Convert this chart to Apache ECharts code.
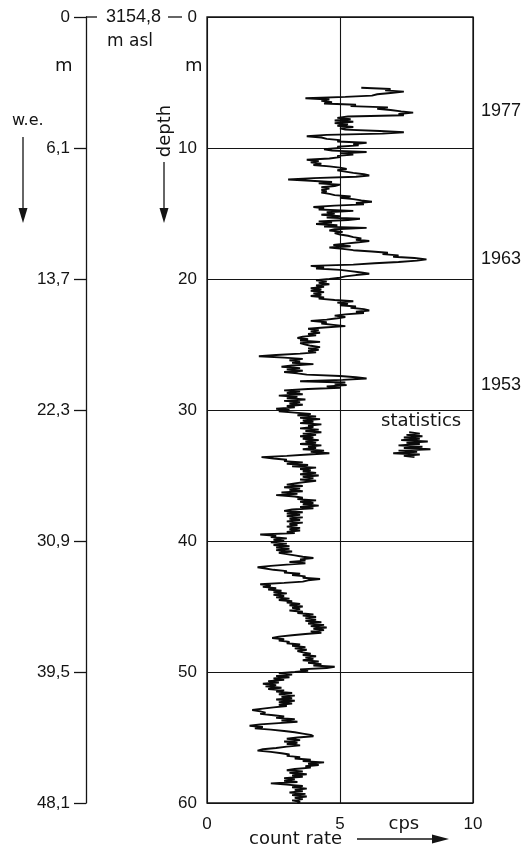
<!DOCTYPE html>
<html><head><meta charset="utf-8">
<script src="https://cdn.jsdelivr.net/npm/echarts@6/dist/echarts.min.js"></script>
<style>html,body{margin:0;padding:0;background:#fff}#c{width:526px;height:849px}</style>
</head><body><div id="c"></div>
<script>
// ---- data ----
const depthStart = 5.4;   // m, first sample of the log
const depthStepTenths = 1; // sample spacing 0.1 m
const countRate = [
 5.8,6.9,6.7,7.4,6.9,6.4,
 6.2,5.2,3.7,4.6,4.3,4.7,4.4,5.6,5.4,6.8,
 6.4,6.9,7.3,7.75,7.2,7.4,5.3,4.9,5.4,4.8,
 5.5,4.8,5.3,4.9,5.5,5.0,5.2,6.5,7.4,6.6,
 4.5,3.75,4.3,4.5,5.0,4.9,6.0,5.5,5.7,4.9,
 5.0,4.4,4.7,6.0,5.0,5.5,4.9,5.0,4.6,3.75,
 4.2,3.9,4.3,4.0,4.6,5.0,5.25,4.9,5.2,5.5,
 5.9,6.1,5.6,4.0,3.05,3.9,4.7,4.2,5.0,4.8,
 4.3,4.6,4.3,4.5,4.3,4.6,4.8,5.4,5.0,5.5,
 5.8,6.2,5.6,5.9,4.8,4.0,4.4,4.2,5.5,4.5,
 4.8,4.3,5.0,4.5,5.75,5.3,4.2,4.7,4.1,4.9,
 4.4,6.0,4.8,4.6,5.1,4.8,5.0,5.3,5.5,5.8,
 5.6,6.1,5.7,5.2,4.75,5.4,4.6,5.1,5.5,6.2,
 6.8,6.6,7.2,7.0,7.8,8.25,7.9,7.2,6.3,5.5,
 3.9,4.4,4.1,5.0,5.4,5.8,6.1,5.6,5.2,5.0,
 4.6,4.1,4.5,4.2,4.6,4.1,4.4,3.9,4.3,3.9,
 4.4,4.0,4.3,3.9,4.4,4.2,4.8,5.5,4.9,5.3,
 5.0,5.6,5.4,5.9,6.1,5.6,5.9,5.2,4.8,5.2,
 4.9,4.5,3.9,4.5,4.3,4.75,5.2,4.4,3.8,4.2,
 3.9,4.25,3.8,4.1,3.6,3.4,3.8,3.5,4.25,3.5,
 3.7,3.9,4.25,3.8,4.2,3.8,4.1,3.5,2.6,1.95,
 2.9,3.6,3.1,3.5,3.2,4.0,3.2,2.8,3.5,3.0,
 3.6,2.9,3.4,3.75,5.0,5.6,6.0,5.1,3.5,5.2,
 4.8,5.25,4.5,5.0,3.8,2.9,3.5,3.0,3.6,2.7,
 3.4,3.0,3.7,2.9,3.5,3.1,3.6,3.0,3.3,2.6,
 3.1,2.7,3.3,3.9,3.4,4.1,3.5,4.25,3.6,4.0,
 3.5,4.3,3.8,4.0,3.5,4.2,3.7,4.3,3.6,4.1,
 3.5,4.0,3.6,4.2,3.7,4.1,3.5,4.3,3.8,4.1,
 3.6,4.4,3.9,4.6,3.8,3.0,2.05,2.5,3.0,2.9,
 3.6,3.0,3.8,3.2,4.1,3.5,3.9,3.6,4.1,3.5,
 4.2,3.6,4.0,3.5,4.1,3.7,3.3,3.0,3.6,2.9,
 3.5,3.1,3.6,2.8,3.4,2.6,3.3,3.6,3.4,4.1,
 3.5,4.0,3.6,4.2,3.5,4.0,3.2,2.9,3.6,3.0,
 3.5,3.0,3.6,3.1,3.5,3.0,3.6,3.1,3.4,3.0,
 3.5,3.1,3.5,3.0,3.3,2.0,2.6,2.4,3.0,2.5,
 2.9,2.4,3.0,2.5,3.1,2.6,3.1,2.6,3.2,2.7,
 3.0,3.3,3.6,4.0,3.5,3.7,3.1,3.7,3.0,2.4,
 1.9,2.2,2.5,3.0,2.9,3.5,3.2,3.7,3.6,4.25,
 3.8,3.6,2.9,2.0,2.4,2.1,2.6,2.3,2.8,2.5,
 3.0,2.5,2.9,2.6,3.1,2.7,3.2,3.0,3.5,3.1,
 3.6,3.2,3.5,3.1,3.6,3.4,4.0,3.6,4.1,3.7,
 4.1,3.7,4.3,3.8,4.4,3.9,4.5,4.0,4.4,3.9,
 4.3,3.7,3.2,2.7,2.45,2.9,2.7,3.1,3.0,3.5,
 3.2,3.7,3.3,3.75,3.4,3.6,3.9,3.6,4.1,3.7,
 4.0,3.6,4.2,3.8,4.3,4.0,4.8,4.5,3.5,3.8,
 3.3,2.7,3.2,2.6,3.1,2.5,2.9,2.3,2.7,2.1,
 2.6,2.2,2.8,2.3,2.9,2.6,3.2,2.7,3.3,2.8,
 3.2,2.6,3.3,2.7,3.2,2.7,3.0,2.5,2.1,1.7,
 2.0,2.2,2.0,2.5,2.9,2.6,3.3,2.8,3.4,2.7,
 2.0,1.6,2.1,1.8,2.4,2.9,3.3,3.6,3.9,4.0,
 3.4,3.0,3.5,2.9,3.4,3.0,3.5,3.0,2.6,2.1,
 1.9,2.4,2.8,3.1,3.0,3.5,3.3,3.9,3.6,4.4,
 3.8,4.2,3.7,3.9,3.3,3.0,3.6,3.1,3.75,3.2,
 3.6,2.9,3.3,2.9,3.4,2.4,3.0,3.6,3.2,3.75,
 3.3,3.6,3.1,3.7,3.2,3.75,3.3,3.6,3.2,3.5,
 3.4
];
const statsStart = 31.7;  // m
const statsRate = [7.6,8.0,7.5,8.1,7.4,8.0,7.3,8.3,7.5,8.0,7.2,8.1,7.4,8.4,7.2,7.9,7.0,8.0,7.4,7.8];
const xTickLabels = ['0','5','10'];
const depthTickLabels = ['0','10','20','30','40','50','60'];
const weTickLabels = ['0','6,1','13,7','22,3','30,9','39,5','48,1'];
const yearLabels = ['1977','1963','1953'];
const yearDepths = [7.2, 18.5, 28.1];
const statsLabelPos = [8.05, 30.9];

// ---- build series ----
const startTenths = Math.round(depthStart*10);
const logData = countRate.map((v,i)=>[v,(startTenths + i*depthStepTenths)/10]);
const statsStartT = Math.round(statsStart*10);
const statsData = statsRate.map((v,i)=>[v,(statsStartT+i)/10]);

const INK = '#141414';
const NUM_FONT = "'Liberation Sans', Arial, sans-serif";
const WORD_FONT = "'DejaVu Sans', sans-serif";

const chart = echarts.init(document.getElementById('c'), null, {renderer:'canvas'});
const option = {
  backgroundColor:'#fff',
  animation:false,
  grid:{left:207, top:17, width:266, height:786, show:true, borderColor:INK, borderWidth:1.3, backgroundColor:'transparent'},
  xAxis:{type:'value', min:0, max:10, interval:5,
    axisLine:{show:false}, axisTick:{show:false},
    splitLine:{show:true, lineStyle:{color:INK, width:1.1}},
    axisLabel:{margin:13, fontSize:17, fontFamily:NUM_FONT, color:INK,
      formatter:(v)=>xTickLabels[Math.round(v/5)]}},
  yAxis:[
    {type:'value', inverse:true, min:0, max:60, interval:10,
     axisLine:{show:false}, axisTick:{show:false},
     splitLine:{show:true, lineStyle:{color:INK, width:1.1}},
     axisLabel:{margin:10, fontSize:17, fontFamily:NUM_FONT, color:INK,
       formatter:(v)=>depthTickLabels[Math.round(v/10)]}},
    {type:'value', inverse:true, min:0, max:60, interval:10, position:'left', offset:121,
     axisLine:{show:true, lineStyle:{color:INK, width:1.3}},
     axisTick:{show:true, length:12, lineStyle:{color:INK, width:1.3}},
     splitLine:{show:false},
     axisLabel:{margin:16, fontSize:17, fontFamily:NUM_FONT, color:INK,
       formatter:(v)=>weTickLabels[Math.round(v/10)]}}
  ],
  series:[
    {type:'line', data:logData, symbol:'none', smooth:false, xAxisIndex:0, yAxisIndex:0,
     lineStyle:{color:'#0a0a0a', width:1.9}},
    {type:'line', data:statsData, symbol:'none', smooth:false, xAxisIndex:0, yAxisIndex:0,
     lineStyle:{color:'#0a0a0a', width:1.9}}
  ]
};
chart.setOption(option);

const P = (x,y)=>chart.convertToPixel({xAxisIndex:0, yAxisIndex:0},[x,y]);
const top0 = P(0,0)[1];
const bot = P(0,60)[1];
const weX = 207-121;
const g = [];
const txt = (s,x,y,opt)=>Object.assign({type:'text', x:x, y:y, style:Object.assign({text:s, fill:INK, font:'17px '+NUM_FONT, textAlign:'left', textVerticalAlign:'middle'}, opt||{})});
// top cross tick of w.e. axis
g.push({type:'line', shape:{x1:weX, y1:top0, x2:weX+11, y2:top0}, style:{stroke:INK, lineWidth:1.3}});
// altitude label
g.push(txt('3154,8', 106, top0, {font:'18px '+NUM_FONT}));
g.push({type:'line', shape:{x1:168, y1:top0, x2:182, y2:top0}, style:{stroke:INK, lineWidth:1.3}});
g.push(txt('m asl', 107, top0+25, {font:'17px '+WORD_FONT}));
g.push(txt('m', 55, top0+49, {font:'18px '+WORD_FONT}));
g.push(txt('m', 185, top0+49, {font:'18px '+WORD_FONT}));
g.push(txt('w.e.', 12, 121, {font:'16px '+WORD_FONT}));
// w.e. arrow
g.push({type:'line', shape:{x1:23, y1:137, x2:23, y2:212}, style:{stroke:INK, lineWidth:1.3}});
g.push({type:'polygon', shape:{points:[[18.5,208],[27.5,208],[23,223]]}, style:{fill:INK}});
// depth label (rotated) and arrow
g.push({type:'text', x:165, y:131, rotation:Math.PI/2, style:{text:'depth', fill:INK, font:'18px '+WORD_FONT, textAlign:'center', textVerticalAlign:'middle'}});
g.push({type:'line', shape:{x1:164, y1:162, x2:164, y2:212}, style:{stroke:INK, lineWidth:1.3}});
g.push({type:'polygon', shape:{points:[[159.5,208],[168.5,208],[164,223]]}, style:{fill:INK}});
// years
yearLabels.forEach((s,i)=>{ const p=P(10,yearDepths[i]); g.push(txt(s, p[0]+8, p[1], {font:'18px '+NUM_FONT})); });
// statistics label
{ const p=P(statsLabelPos[0],statsLabelPos[1]); g.push(txt('statistics', p[0], p[1], {font:'18px '+WORD_FONT, textAlign:'center'})); }
// x-axis words
{ const p=P(7.4,60); g.push(txt('cps', p[0], bot+21, {font:'18px '+WORD_FONT, textAlign:'center'})); }
g.push(txt('count rate', 249, bot+36, {font:'18px '+WORD_FONT}));
g.push({type:'line', shape:{x1:357, y1:bot+36, x2:436, y2:bot+36}, style:{stroke:INK, lineWidth:1.3}});
g.push({type:'polygon', shape:{points:[[432,bot+31.5],[432,bot+40.5],[449,bot+36]]}, style:{fill:INK}});
chart.setOption({graphic:g});
</script></body></html>
